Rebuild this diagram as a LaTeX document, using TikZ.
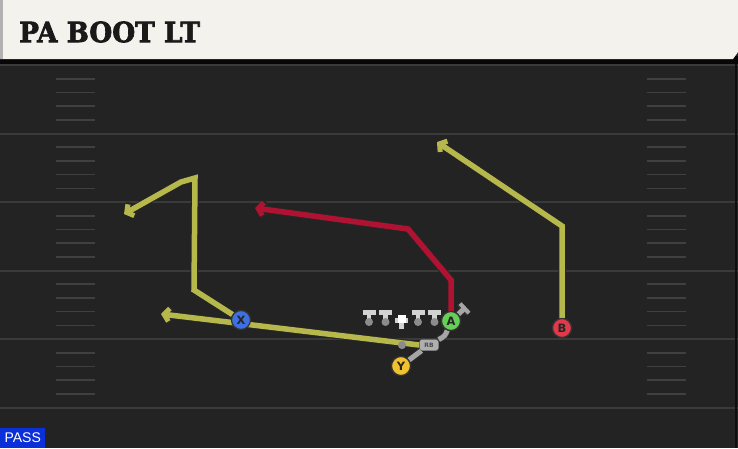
\documentclass[tikz,border=0pt]{standalone}
\usepackage{fontspec}
\setmainfont{DejaVu Sans}
\newfontfamily\titlefont[FakeBold=2.5]{DejaVu Serif}
\newfontfamily\passfont{Liberation Sans}
\usetikzlibrary{arrows.meta}
\definecolor{fieldbg}{HTML}{232323}
\definecolor{headbg}{HTML}{F4F2EC}
\definecolor{yardline}{HTML}{3A3A3A}
\definecolor{hashc}{HTML}{404040}
\definecolor{yroute}{HTML}{B6B84B}
\definecolor{rroute}{HTML}{B01232}
\definecolor{groute}{HTML}{A6A6A6}
\definecolor{pgreen}{HTML}{66CF58}
\definecolor{pred}{HTML}{E2384A}
\definecolor{pblue}{HTML}{3E70E2}
\definecolor{pyellow}{HTML}{F2C22E}
\definecolor{passblue}{HTML}{0B2FD8}
\definecolor{olc}{HTML}{D2D2D2}
\tikzset{
  x=1pt, y=-1pt,
  outl/.style={line width=7.5, color=black!85, line join=miter, -{Straight Barb[length=6,width=15,line width=7]}},
  yr/.style={line width=5.5, color=yroute, line join=miter, -{Straight Barb[length=5,width=13,line width=5]}},
  rr/.style={line width=5.5, color=rroute, line join=miter, -{Straight Barb[length=5,width=13,line width=5]}},
  player/.style={circle, draw=black!80, line width=1.2, minimum size=19, inner sep=0, font=\bfseries\fontsize{11.5}{11.5}\selectfont, text=black!85},
  yline/.style={line width=2, color=yardline},
  hash/.style={line width=1.6, color=hashc},
  olman/.style={line width=4.5, color=olc, -{Bar[width=13,line width=4.5]}},
  oldot/.style={circle, fill=black!45!white, inner sep=0, minimum size=8},
  rbbox/.style={fill=groute!90!white, draw=black!70, rounded corners=2.5, minimum width=19, minimum height=11, inner sep=0, font=\bfseries\fontsize{6}{6}\selectfont, text=black!70},
}
\begin{document}
\begin{tikzpicture}
\useasboundingbox (0,0) rectangle (738,448);
% field
\fill[fieldbg] (0,0) rectangle (738,448);
\fill[black!80!fieldbg] (0,56) rectangle (738,64);
% yard lines
\foreach \y in {133.5,202,270.5,339,407.5} \draw[yline] (0,\y) -- (738,\y);
\draw[yline] (0,65) -- (738,65);
% hash marks
\foreach \b in {65,133.5,202,270.5,339} {
  \foreach \k in {1,2,3,4} {
    \draw[hash] (56,\b+13.7*\k) -- (95,\b+13.7*\k);
    \draw[hash] (647,\b+13.7*\k) -- (686,\b+13.7*\k);
  }
}
\draw[line width=1.5, color=black!60!fieldbg] (736,64) -- (736,448);
% header
\fill[headbg] (0,0) -- (738,0) -- (738,52) -- (733,59) -- (0,59) -- cycle;
\fill[black!30] (0,0) rectangle (3,59);
\node[anchor=west, inner sep=0, font=\titlefont\bfseries\fontsize{28}{28}\selectfont, text=black!90] (title) at (19,32) {\scalebox{0.94}[1]{PA BOOT LT}};

% coordinates
\coordinate (r1) at (451,280);
\coordinate (r2) at (408,229);
\coordinate (r3) at (255,208);
\coordinate (b1) at (562,226);
\coordinate (b2) at (437,142);
\coordinate (x1) at (194,290);
\coordinate (x2) at (195,178);
\coordinate (x3) at (181,182);
\coordinate (x4) at (124,214);
\coordinate (f1) at (161,314);
\coordinate (tend) at (466,307);

% players (placement)
\node[player, fill=pgreen] (A) at (451,321) {A};
\node[player, fill=pred] (B) at (562,328) {B};
\node[player, fill=pblue] (X) at (241,320) {X};
\node[player, fill=pyellow] (Y) at (401,366) {Y};
\node[oldot] (qb) at (402,345) {};
\node[rbbox] (RB) at (429,345) {RB};

% routes (outline then colour)
\draw[outl] (A.north) -- (r1) -- (r2) -- (r3);
\draw[rr] (A.north) -- (r1) -- (r2) -- (r3);
\draw[outl] (B.north) -- (b1) -- (b2);
\draw[yr] (B.north) -- (b1) -- (b2);
\draw[outl] (X) -- (x1) -- (x2) -- (x3) -- (x4);
\draw[yr] (X) -- (x1) -- (x2) -- (x3) -- (x4);
\draw[outl] (RB.west) -- (f1);
\draw[yr] (RB.west) -- (f1);
% gray block path
\draw[line width=6.5, black!80, -{Bar[width=14,line width=5.5]}] (Y) -- (RB) .. controls (445,336) .. (A) -- (tend);
\draw[line width=5, groute, -{Bar[width=13,line width=4]}] (Y) -- (RB) .. controls (445,336) .. (A) -- (tend);

% redraw players on top
\node[player, fill=pgreen] at (A) {A};
\node[player, fill=pred] at (B) {B};
\node[player, fill=pblue] at (X) {X};
\node[player, fill=pyellow] at (Y) {Y};
\node[oldot] at (qb) {};
\node[rbbox] at (RB) {RB};

% offensive line
\foreach \n/\x in {l1/369,l2/385.5,c/401.5,l3/418,l4/434.5} {
  \coordinate (\n) at (\x,322);
}
\foreach \n in {l1,l2,l3,l4} {
  \draw[olman] ([yshift=-3]\n) -- ++(0,-15);
  \node[oldot] at (\n) {};
}
\draw[olman] ([yshift=-7]c) -- ++(0,-11);
\node[fill=white, minimum size=8, inner sep=0] (cs) at (401.5,318.5) {};

% PASS label
\node[fill=passblue, anchor=south west, minimum width=45, minimum height=20, inner sep=0, text=white, font=\passfont\fontsize{14}{14}\selectfont] (pass) at (0,448) {PASS};
\end{tikzpicture}
\end{document}
